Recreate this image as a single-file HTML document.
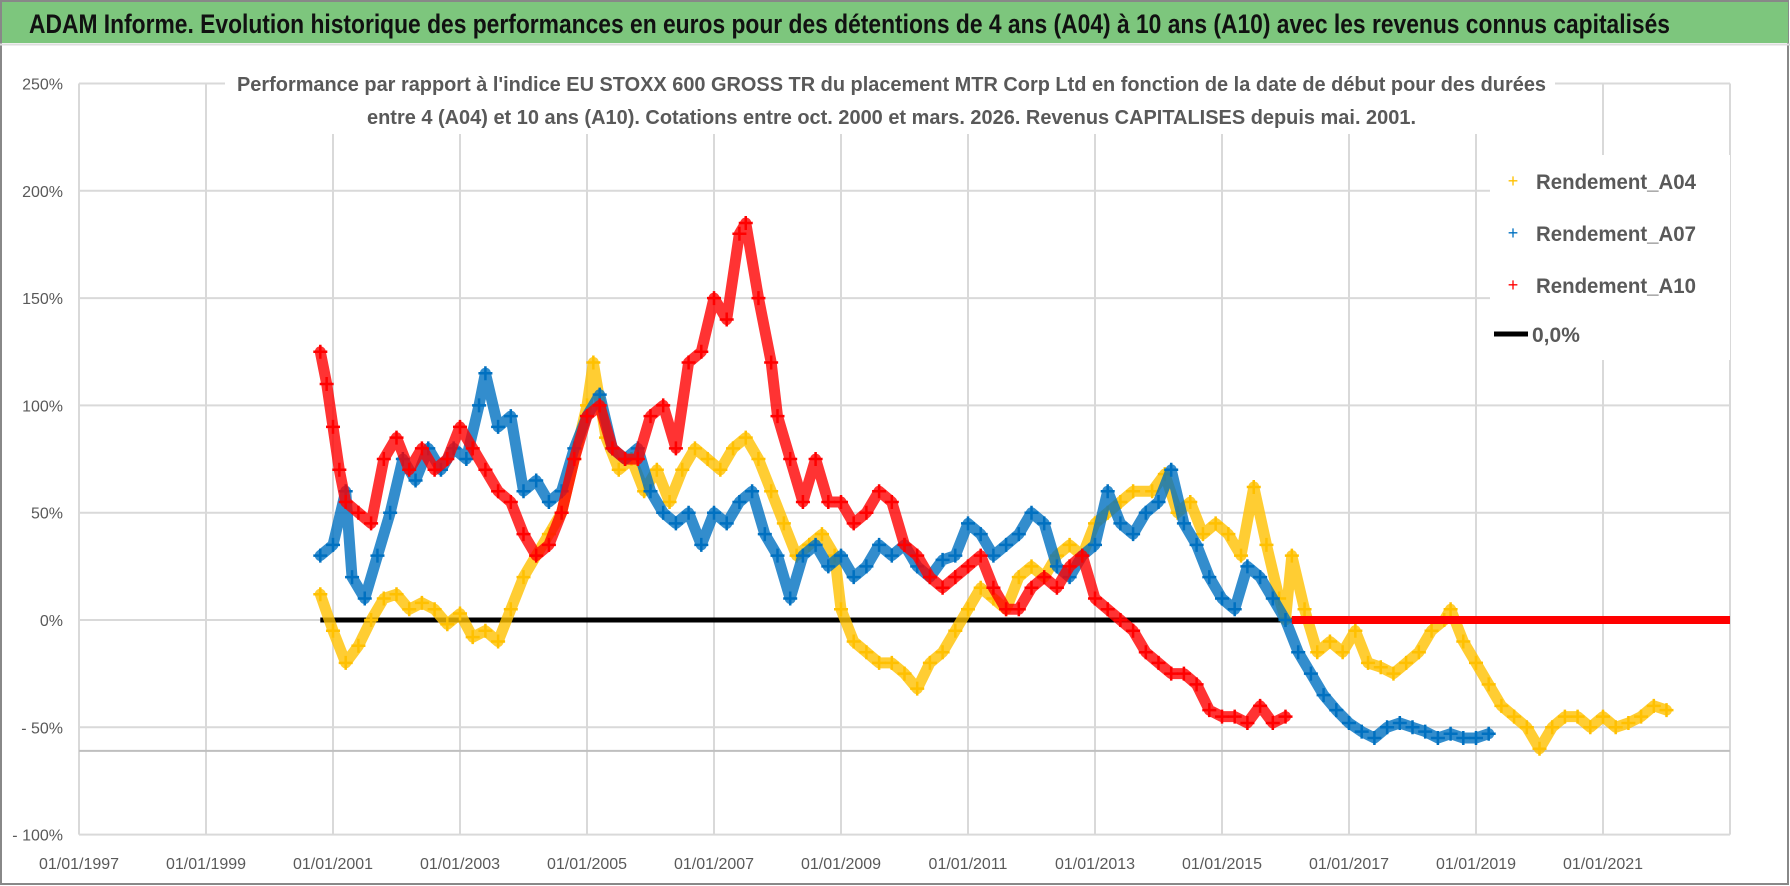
<!DOCTYPE html>
<html><head><meta charset="utf-8">
<style>
html,body{margin:0;padding:0;background:#fff;}
svg{display:block;font-family:"Liberation Sans",sans-serif;}
</style></head>
<body>
<svg id="chart" width="1790" height="886" viewBox="0 0 1790 886" xmlns="http://www.w3.org/2000/svg">
<rect x="0" y="0" width="1790" height="886" fill="#fff"/>
<rect x="1" y="1" width="1787" height="883" fill="none" stroke="#888" stroke-width="2"/>
<rect x="2" y="2" width="1786" height="41" fill="#7dc67d"/>
<line x1="0" y1="44.5" x2="1790" y2="44.5" stroke="#ddd" stroke-width="2"/>
<text x="29" y="33" font-size="27" font-weight="bold" fill="#111" textLength="1641" lengthAdjust="spacingAndGlyphs">ADAM Informe. Evolution historique des performances en euros pour des détentions de 4 ans (A04) à 10 ans (A10) avec les revenus connus capitalisés</text>
<g id="grid"></g>
<g id="axes"></g>
<rect x="225" y="64" width="1330" height="70" fill="#fff"/>
<text x="237" y="91" font-size="20" font-weight="bold" fill="#595959" textLength="1309" lengthAdjust="spacingAndGlyphs">Performance par rapport à l'indice EU STOXX 600 GROSS TR  du placement MTR Corp Ltd en fonction de la date de début pour des durées</text>
<text x="367" y="124" font-size="20" font-weight="bold" fill="#595959" textLength="1049" lengthAdjust="spacingAndGlyphs">entre 4 (A04) et 10 ans (A10).  Cotations entre oct. 2000 et mars. 2026. Revenus CAPITALISES depuis mai. 2001.</text>
<g id="series"></g>
<g id="legend">
<rect x="1490" y="155" width="240" height="205" fill="#fff"/>
<g><text x="1513" y="187" font-size="18" fill="#FFC000" text-anchor="middle">+</text><text x="1536" y="189" font-size="21" font-weight="bold" fill="#595959" textLength="160" lengthAdjust="spacingAndGlyphs">Rendement_A04</text></g>
<g><text x="1513" y="239" font-size="18" fill="#0070C0" text-anchor="middle">+</text><text x="1536" y="241" font-size="21" font-weight="bold" fill="#595959" textLength="160" lengthAdjust="spacingAndGlyphs">Rendement_A07</text></g>
<g><text x="1513" y="291" font-size="18" fill="#FF0000" text-anchor="middle">+</text><text x="1536" y="293" font-size="21" font-weight="bold" fill="#595959" textLength="160" lengthAdjust="spacingAndGlyphs">Rendement_A10</text></g>
<g><line x1="1494" y1="334" x2="1528" y2="334" stroke="#000" stroke-width="5"/><text x="1532" y="342" font-size="21" font-weight="bold" fill="#595959">0,0%</text></g>
</g>
</svg>
<script>
const yTicks = [250, 200, 150, 100, 50, 0, -50, -100];
const yTickLabels = ["250%", "200%", "150%", "100%", "50%", "0%", "- 50%", "- 100%"];
const xTicks = [1997, 1999, 2001, 2003, 2005, 2007, 2009, 2011, 2013, 2015, 2017, 2019, 2021];
const xTickLabels = ["01/01/1997","01/01/1999","01/01/2001","01/01/2003","01/01/2005","01/01/2007","01/01/2009","01/01/2011","01/01/2013","01/01/2015","01/01/2017","01/01/2019","01/01/2021"];

const datesA04 = [2000.8,2001.0,2001.2,2001.4,2001.6,2001.8,2002.0,2002.2,2002.4,2002.6,2002.8,2003.0,2003.2,2003.4,2003.6,2003.8,2004.0,2004.2,2004.4,2004.6,2004.8,2005.0,2005.1,2005.3,2005.5,2005.7,2005.9,2006.1,2006.3,2006.5,2006.7,2006.9,2007.1,2007.3,2007.5,2007.7,2007.9,2008.1,2008.3,2008.5,2008.7,2008.9,2009.0,2009.2,2009.4,2009.6,2009.8,2010.0,2010.2,2010.4,2010.6,2010.8,2011.0,2011.2,2011.4,2011.6,2011.8,2012.0,2012.2,2012.4,2012.6,2012.8,2013.0,2013.2,2013.4,2013.6,2013.9,2014.1,2014.3,2014.5,2014.7,2014.9,2015.1,2015.3,2015.5,2015.7,2015.9,2016.0,2016.1,2016.3,2016.5,2016.7,2016.9,2017.1,2017.3,2017.5,2017.7,2017.9,2018.1,2018.3,2018.5,2018.6,2018.8,2019.0,2019.2,2019.4,2019.6,2019.8,2020.0,2020.2,2020.4,2020.6,2020.8,2021.0,2021.2,2021.4,2021.6,2021.8,2022.0];
const valuesA04 = [12,-5,-20,-12,0,10,12,5,8,5,-2,3,-8,-5,-10,5,20,30,40,50,75,100,120,85,70,75,60,70,55,70,80,75,70,80,85,75,60,45,30,35,40,30,5,-10,-15,-20,-20,-25,-32,-20,-15,-5,5,15,10,5,20,25,20,30,35,30,45,50,55,60,60,68,50,55,40,45,40,30,62,35,10,0,30,5,-15,-10,-15,-5,-20,-22,-25,-20,-15,-5,0,5,-10,-20,-30,-40,-45,-50,-60,-50,-45,-45,-50,-45,-50,-48,-45,-40,-42];

const datesA07 = [2000.8,2001.0,2001.2,2001.3,2001.5,2001.7,2001.9,2002.1,2002.3,2002.5,2002.7,2002.9,2003.1,2003.3,2003.4,2003.6,2003.8,2004.0,2004.2,2004.4,2004.6,2004.8,2005.0,2005.2,2005.4,2005.6,2005.8,2006.0,2006.2,2006.4,2006.6,2006.8,2007.0,2007.2,2007.4,2007.6,2007.8,2008.0,2008.2,2008.4,2008.6,2008.8,2009.0,2009.2,2009.4,2009.6,2009.8,2010.0,2010.2,2010.4,2010.6,2010.8,2011.0,2011.2,2011.4,2011.6,2011.8,2012.0,2012.2,2012.4,2012.6,2012.8,2013.0,2013.2,2013.4,2013.6,2013.8,2014.0,2014.2,2014.4,2014.6,2014.8,2015.0,2015.2,2015.4,2015.6,2015.8,2016.0,2016.2,2016.4,2016.6,2016.8,2017.0,2017.2,2017.4,2017.6,2017.8,2018.0,2018.2,2018.4,2018.6,2018.8,2019.0,2019.2];
const valuesA07 = [30,35,60,20,10,30,50,75,65,80,70,80,75,100,115,90,95,60,65,55,60,80,95,105,80,75,80,60,50,45,50,35,50,45,55,60,40,30,10,30,35,25,30,20,25,35,30,35,25,20,28,30,45,40,30,35,40,50,45,25,20,30,35,60,45,40,50,55,70,45,35,20,10,5,25,20,10,0,-15,-25,-35,-42,-48,-52,-55,-50,-48,-50,-52,-55,-53,-55,-55,-53];

const datesA10 = [2000.8,2000.9,2001.0,2001.1,2001.2,2001.4,2001.6,2001.8,2002.0,2002.2,2002.4,2002.6,2002.8,2003.0,2003.2,2003.4,2003.6,2003.8,2004.0,2004.2,2004.4,2004.6,2004.8,2005.0,2005.2,2005.4,2005.6,2005.8,2006.0,2006.2,2006.4,2006.6,2006.8,2007.0,2007.2,2007.4,2007.5,2007.7,2007.9,2008.0,2008.2,2008.4,2008.6,2008.8,2009.0,2009.2,2009.4,2009.6,2009.8,2010.0,2010.2,2010.4,2010.6,2010.8,2011.0,2011.2,2011.4,2011.6,2011.8,2012.0,2012.2,2012.4,2012.6,2012.8,2013.0,2013.2,2013.4,2013.6,2013.8,2014.0,2014.2,2014.4,2014.6,2014.8,2015.0,2015.2,2015.4,2015.6,2015.8,2016.0];
const valuesA10 = [125,110,90,70,55,50,45,75,85,70,80,70,75,90,80,70,60,55,40,30,35,50,75,95,100,80,75,75,95,100,80,120,125,150,140,180,185,150,120,95,75,55,75,55,55,45,50,60,55,35,30,20,15,20,25,30,15,5,5,15,20,15,25,30,10,5,0,-5,-15,-20,-25,-25,-30,-42,-45,-45,-48,-40,-48,-45];

const tailA10Range = [2016.1, 2023.0];   // A10 values at 0% over this range
const zeroLineRange = [2000.8, 2016.1];
const floorLineValue = -61;

const X0 = 79, X1 = 1730, Y0pct = 620, PXPER50 = 107.3;
function xScale(year){ return X0 + (year - 1997) / (2023 - 1997) * (X1 - X0); }
function yScale(p){ return Y0pct - p / 50 * PXPER50; }

const NS = "http://www.w3.org/2000/svg";
function mk(tag, attrs, parent){ const e = document.createElementNS(NS, tag); for (const k in attrs) e.setAttribute(k, attrs[k]); parent.appendChild(e); return e; }

const grid = document.getElementById('grid');
const axes = document.getElementById('axes');
yTicks.forEach((v, i) => {
  const y = yScale(v);
  const l = mk('line', {x1: X0, x2: X1, y1: y, y2: y, stroke: '#d9d9d9', 'stroke-width': 2}, grid);
  
  
  const t = mk('text', {x: 63, y: y + 6, 'font-size': 16, fill: '#595959', 'text-anchor': 'end'}, axes);
  t.textContent = yTickLabels[i];
  
  
});
xTicks.forEach((v, i) => {
  const x = xScale(v);
  const l = mk('line', {x1: x, x2: x, y1: yScale(250), y2: yScale(-100), stroke: '#d9d9d9', 'stroke-width': 2}, grid);
  
  
  const t = mk('text', {x: x, y: 869, 'font-size': 16, fill: '#595959', 'text-anchor': 'middle'}, axes);
  t.textContent = xTickLabels[i];
  
  
});
const rl = mk('line', {x1: X1, x2: X1, y1: yScale(250), y2: yScale(-100), stroke: '#d9d9d9', 'stroke-width': 2}, grid);


const fl = mk('line', {x1: X0, x2: X1, y1: yScale(floorLineValue), y2: yScale(floorLineValue), stroke: '#bfbfbf', 'stroke-width': 2}, grid);



const layer = document.getElementById('series');
function drawSeries(dates, vals, color, name){
  const g = mk('g', {}, layer);
  
  
  const pts = dates.map((d, i) => xScale(d).toFixed(1) + ',' + yScale(vals[i]).toFixed(1)).join(' ');
  mk('polyline', {points: pts, fill: 'none', stroke: color, 'stroke-width': 11, 'stroke-linejoin': 'round', 'stroke-linecap': 'round', opacity: 0.8}, g);
  dates.forEach((d, i) => {
    const x = xScale(d), y = yScale(vals[i]);
    const p = mk('path', {d: `M${x-7},${y}h14M${x},${y-7}v14`, stroke: color, 'stroke-width': 2.5}, g);
    
    
  });
}
const z = mk('line', {x1: xScale(zeroLineRange[0]), x2: xScale(zeroLineRange[1]), y1: yScale(0), y2: yScale(0), stroke: '#000', 'stroke-width': 5}, layer);


drawSeries(datesA04, valuesA04, '#FFC000', 'series-a04');
drawSeries(datesA07, valuesA07, '#0070C0', 'series-a07');
drawSeries(datesA10, valuesA10, '#FF0000', 'series-a10');
const tl = mk('line', {x1: xScale(tailA10Range[0]), x2: xScale(tailA10Range[1]), y1: yScale(0), y2: yScale(0), stroke: '#FF0000', 'stroke-width': 8}, layer);


</script>
</body></html>
